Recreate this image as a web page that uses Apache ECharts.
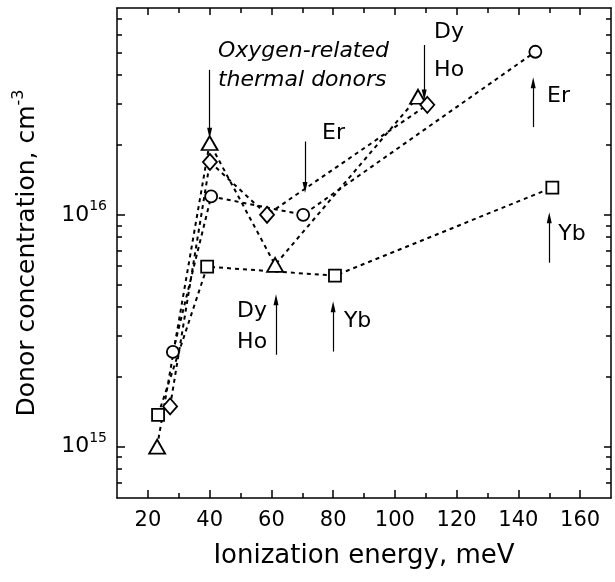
<!DOCTYPE html>
<html>
<head>
<meta charset="utf-8">
<script src="https://cdn.jsdelivr.net/npm/echarts@6/dist/echarts.min.js"></script>
<style>
  html, body { margin: 0; padding: 0; background: #fff; }
  #chart { width: 615px; height: 582px; }
</style>
</head>
<body>
<div id="chart"></div>
<script>
const FONT = 'DejaVu Sans';

// [ionization energy (meV), donor concentration (cm^-3)]
const squares = [[23.3, 1.37e15], [39.2, 5.97e15], [80.6, 5.46e15], [151, 1.31e16]];
const circles = [[28.1, 2.56e15], [40.5, 1.2e16], [70.3, 1.0e16], [145.5, 5.05e16]];
const triangles = [[23, 1.0e15], [40, 2.04e16], [61.2, 6.08e15], [107.5, 3.23e16]];
const diamonds = [[27.2, 1.49e15], [40.1, 1.69e16], [58.6, 1.0e16], [110.5, 2.98e16]];

const xMajorTicks = [20, 40, 60, 80, 100, 120, 140, 160];
const xMinorTicks = [30, 50, 70, 90, 110, 130, 150];
const yMajorTicks = [1e15, 1e16];
const yMinorTicks = [7e14, 8e14, 9e14, 2e15, 3e15, 4e15, 5e15, 6e15, 7e15, 8e15, 9e15,
  2e16, 3e16, 4e16, 5e16, 6e16, 7e16];

// arrows: [x, y start, y end (tip)]
const arrows = [
  [40, 4.22e16, 2.25e16],
  [109.5, 5.4e16, 3.29e16],
  [144.8, 2.39e16, 3.71e16],
  [70.9, 2.07e16, 1.31e16],
  [61.5, 2.49e15, 4.3e15],
  [80, 2.57e15, 4.01e15],
  [150, 6.21e15, 9.7e15]
];

// notes: [x (left edge), y, text, italic]
const notes = [
  [42.7, 5.05e16, 'Oxygen-related', true],
  [42.7, 3.79e16, 'thermal donors', true],
  [112.7, 6.15e16, 'Dy', false],
  [112.7, 4.22e16, 'Ho', false],
  [149.3, 3.23e16, 'Er', false],
  [76.4, 2.25e16, 'Er', false],
  [48.9, 3.82e15, 'Dy', false],
  [48.9, 2.81e15, 'Ho', false],
  [83.5, 3.46e15, 'Yb', false],
  [152.9, 8.2e15, 'Yb', false]
];

const black = '#000';
const tickStyle = { color: black, width: 1.5 };

function xAxisDef(position, ticks, len, withLine, withLabel) {
  const ax = {
    type: 'value', min: 10, max: 170, position: position,
    axisLine: { show: withLine, onZero: false, lineStyle: { color: black, width: 1.5 } },
    axisTick: { show: true, inside: true, length: len, customValues: ticks, lineStyle: tickStyle },
    axisLabel: { show: false },
    splitLine: { show: false }
  };
  if (withLabel) {
    ax.axisLabel = {
      show: true, customValues: ticks, margin: 12, color: black,
      fontFamily: FONT, fontSize: 21
    };
    ax.name = 'Ionization energy, meV';
    ax.nameLocation = 'middle';
    ax.nameGap = 45;
    ax.nameTextStyle = { fontFamily: FONT, fontSize: 26, color: black };
  }
  return ax;
}

function yAxisDef(position, ticks, len, withLine, withLabel) {
  const ax = {
    type: 'log', logBase: 10, min: 6e14, max: 7.8e16, position: position,
    axisLine: { show: withLine, onZero: false, lineStyle: { color: black, width: 1.5 } },
    axisTick: { show: true, inside: true, length: len, customValues: ticks, lineStyle: tickStyle },
    axisLabel: { show: false },
    splitLine: { show: false },
    minorTick: { show: false }
  };
  if (withLabel) {
    ax.axisLabel = {
      show: true, customValues: ticks, margin: 10, color: black,
      formatter: function (v) {
        return '{b|10}{s|' + Math.round(Math.log10(v)) + '}';
      },
      rich: {
        b: { fontFamily: FONT, fontSize: 22, lineHeight: 30, color: black },
        s: { fontFamily: FONT, fontSize: 14, lineHeight: 14, verticalAlign: 'top', color: black }
      }
    };
    ax.name = '{t|Donor concentration, cm}{s|-3}';
    ax.nameLocation = 'middle';
    ax.nameRotate = 90;
    ax.nameGap = 74;
    ax.nameTextStyle = {
      rich: {
        t: { fontFamily: FONT, fontSize: 25, lineHeight: 32, color: black },
        s: { fontFamily: FONT, fontSize: 16, lineHeight: 16, verticalAlign: 'top', color: black }
      }
    };
  }
  return ax;
}

function markerSeries(data, symbol, size) {
  return {
    type: 'line', data: data, symbol: symbol, symbolSize: size,
    showSymbol: true, showAllSymbol: true, z: 3,
    lineStyle: { color: black, width: 2, type: [4, 4] },
    itemStyle: { color: '#fff', borderColor: black, borderWidth: 1.8 },
    emphasis: { disabled: true }
  };
}

const chart = echarts.init(document.getElementById('chart'));
chart.setOption({
  animation: false,
  grid: { left: 117, right: 4, top: 8, bottom: 84, containLabel: false, outerBoundsMode: 'none' },
  xAxis: [
    xAxisDef('bottom', xMajorTicks, 8, true, true),
    xAxisDef('bottom', xMinorTicks, 5, false, false),
    xAxisDef('top', xMajorTicks, 7, true, false),
    xAxisDef('top', xMinorTicks, 5, false, false)
  ],
  yAxis: [
    yAxisDef('left', yMajorTicks, 8, true, true),
    yAxisDef('left', yMinorTicks, 5, false, false),
    yAxisDef('right', yMajorTicks, 7, true, false),
    yAxisDef('right', yMinorTicks, 5, false, false)
  ],
  series: [
    markerSeries(squares, 'rect', 12),
    markerSeries(circles, 'circle', 12),
    markerSeries(triangles, 'triangle', [16, 14]),
    markerSeries(diamonds, 'diamond', [14, 16]),
    {
      type: 'scatter',
      symbolSize: 1,
      itemStyle: { color: 'rgba(255,255,255,0)' },
      silent: true,
      z: 4,
      data: notes.map(n => ({
        name: n[2],
        value: [n[0], n[1]],
        label: n[3] ? { fontStyle: 'italic', fontSize: 22, color: black } : { color: black }
      })),
      label: {
        show: true, position: 'inside', align: 'left', verticalAlign: 'middle',
        formatter: '{b}', color: black, fontFamily: FONT, fontSize: 22,
        textBorderWidth: 0, opacity: 1
      },
      markLine: {
        silent: true,
        animation: false,
        label: { show: false },
        lineStyle: { color: black, width: 1.2, type: 'solid' },
        symbol: ['none', 'triangle'],
        symbolSize: [0, 8],
        data: arrows.map(a => [
          { coord: [a[0], a[1]], symbol: 'none' },
          { coord: [a[0], a[2]], symbol: 'triangle', symbolSize: [5, 11] }
        ])
      }
    }
  ]
});
</script>
</body>
</html>
